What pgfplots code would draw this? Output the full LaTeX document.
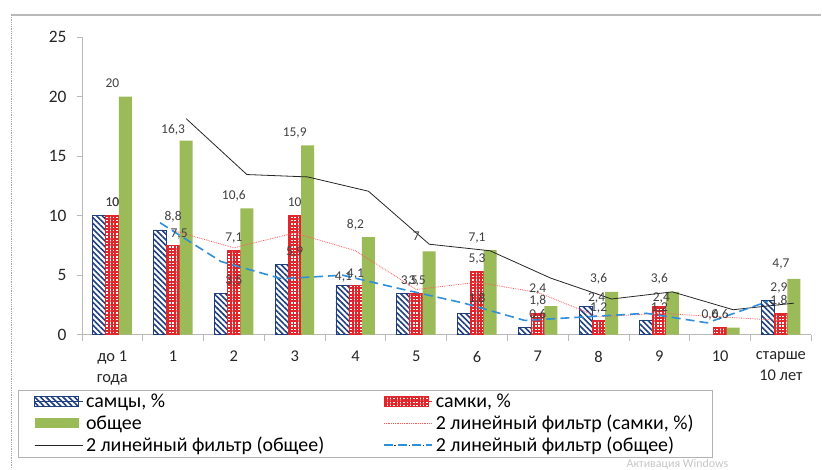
\documentclass[border=0pt]{standalone}
\usepackage{fontspec}
\setmainfont{Carlito}
\usepackage{pgfplots}
\usepackage{pgfplotstable}
\pgfplotsset{compat=1.18}
\usetikzlibrary{patterns.meta}
\definecolor{cNavy}{HTML}{1F3F7F}
\definecolor{cRed}{HTML}{E0262B}
\definecolor{cGreen}{HTML}{9BBB59}
\definecolor{cDash}{HTML}{2F8FD8}
\definecolor{cDot}{HTML}{FF5A5A}
\definecolor{cTxt}{HTML}{404040}

% dm, df, dt: extra vertical shift of the data labels (bp); hm, hf, ht: horizontal shift
\pgfplotstableread{
x m f t dm df dt hm hf ht
0 10 10 20 0 0 0 0 0 0
1 8.8 7.5 16.3 0 -1 -2 0 6 0
2 3.5 7.1 10.6 0 0 0 0 0 0
3 5.9 10 15.9 0 0 0 0 0 0
4 4.1 4.1 8.2 -4 -1 0 -12 0 0
5 3.5 3.5 7 0 0 2 -7 1 0
6 1.8 5.3 7.1 2 0 0 0 0 0
7 0.6 1.8 2.4 0 0 5 0 0 0
8 2.4 1.2 3.6 -4 0 0 -2 0 0
9 1.2 2.4 3.6 0 -4 0 0 2 0
10 nan 0.6 0.6 0 0 0 0 -10 0
11 2.9 1.8 4.7 0 0 2 -2 -2 0
}\data

\pgfplotstableread{
x mm fm tm
1 9.4 8.75 18.15
2 6.15 7.3 13.45
3 4.7 8.55 13.25
4 5.0 7.05 12.05
5 3.8 3.8 7.6
6 2.65 4.4 7.05
7 1.2 3.55 4.75
8 1.5 1.5 3.0
9 1.8 1.8 3.6
10 1.0 1.5 2.1
11 2.8 1.2 2.65
}\ma

\pgfplotsset{
  legMale/.style={legend image code/.code={\draw[cNavy, line width=0.8bp, pattern={Lines[angle=-45, distance=4bp, line width=1.6bp]}, pattern color=cNavy] (0bp,-5bp) rectangle (44bp,5bp); \path (0bp,0bp) -- (48bp,0bp);}},
  legFemale/.style={legend image code/.code={\draw[cRed, line width=0.8bp, pattern={Hatch[distance=3.3bp, line width=1.9bp]}, pattern color=cRed] (0bp,-5bp) rectangle (44bp,5bp); \path (0bp,0bp) -- (48bp,0bp);}},
  legTotal/.style={legend image code/.code={\fill[cGreen] (0bp,-5bp) rectangle (44bp,5bp); \path (0bp,0bp) -- (48bp,0bp);}},
  legDot/.style={legend image code/.code={\draw[cDot, line width=0.8bp, densely dotted] (0bp,0bp) -- (44bp,0bp); \path (0bp,0bp) -- (48bp,0bp);}},
  legSolid/.style={legend image code/.code={\draw[black!85, line width=0.8bp] (0bp,0bp) -- (44bp,0bp); \path (0bp,0bp) -- (48bp,0bp);}},
  legDashDot/.style={legend image code/.code={\draw[black!80, line width=0.7bp, dash pattern=on 7bp off 3bp on 1.5bp off 3bp] (0bp,0bp) -- (44bp,0bp); \path (0bp,0bp) -- (48bp,0bp);}},
  lbl/.style n args={2}{nodes near coords,
    visualization depends on={\thisrow{#1} \as \dy},
    visualization depends on={\thisrow{#2} \as \dx},
    every node near coord/.append style={anchor=base, yshift=9bp+\dy bp, xshift=\dx bp}},
}

\begin{document}
\begin{tikzpicture}[x=1bp,y=1bp]
\path (0,0) rectangle (822,-469);
\draw[gray!55, line width=1.4bp] (11,-15) -- (822,-15);
\draw[gray!70, line width=0.8bp, densely dotted] (11,-15) -- (11,-468);
\begin{axis}[
  at={(82bp,-335bp)}, anchor=south west,
  scale only axis, width=730bp, height=298bp,
  xmin=-0.5, xmax=11.5, ymin=0, ymax=25,
  axis x line*=bottom, axis y line*=left,
  axis line style={draw=gray!55, line width=0.8bp},
  ytick={0,5,...,25},
  xtick={0,...,11},
  xticklabels={{до 1\\года},1,2,3,4,5,6,7,8,9,10,{старше\\10 лет}},
  minor xtick={-0.5,0.5,...,11.5},
  major x tick style={draw=none},
  tick align=outside, major tick length=5bp, minor tick length=6bp,
  tick style={draw=gray!55, line width=0.8bp},
  ticklabel style={font=\fontsize{16.5}{21}\selectfont, text=black!85},
  xticklabel style={align=center, yshift=-8bp},
  yticklabel style={xshift=-7bp, font=\fontsize{17.5}{21}\selectfont},
  /pgf/number format/assume math mode=true,
  /pgf/number format/use comma,
  clip=false,
  legend columns=2,
  legend cell align=left,
  legend style={at={(-0.0877,-0.1846)}, anchor=north west, draw=gray!60, line width=0.6bp,
    font=\fontsize{20}{22}\selectfont, inner xsep=16bp, inner ysep=3.5bp,
    nodes={inner ysep=0.5bp, inner xsep=3bp},
    /tikz/every even column/.append style={column sep=56bp}, row sep=5bp},
  nodes near coords style={font=\fontsize{13.5}{15}\selectfont, text=cTxt, inner sep=1bp},
]
\addplot[ybar, bar width=13bp, bar shift=-13bp, draw=cNavy, line width=0.8bp,
  pattern={Lines[angle=-45, distance=4bp, line width=1.6bp]}, pattern color=cNavy,
  lbl={dm}{hm}, legMale]
  table[x=x,y=m] {\data};
\addlegendentry{самцы, \%}
\addplot[ybar, bar width=13bp, bar shift=0bp, draw=cRed, line width=0.8bp,
  pattern={Hatch[distance=3.3bp, line width=1.9bp]}, pattern color=cRed,
  lbl={df}{hf}, legFemale]
  table[x=x,y=f] {\data};
\addlegendentry{самки, \%}
\addplot[ybar, bar width=13bp, bar shift=13bp, draw=none, fill=cGreen,
  lbl={dt}{ht}, legTotal]
  table[x=x,y=t] {\data};
\addlegendentry{общее}
\addplot[sharp plot, no markers, cDot, line width=0.8bp, densely dotted, legDot]
  table[x=x,y=fm] {\ma};
\addlegendentry{2 линейный фильтр (самки, \%)}
\addplot[sharp plot, no markers, black!85, line width=0.8bp, legSolid]
  table[x expr=\thisrow{x}+0.2137,y=tm] {\ma};
\addlegendentry{2 линейный фильтр (общее)}
\addplot[sharp plot, no markers, cDash, line width=1.6bp, dash pattern=on 9bp off 5bp, legDashDot]
  table[x expr=\thisrow{x}-0.2137,y=mm] {\ma};
\addlegendentry{2 линейный фильтр (общее)}
\end{axis}
\node[text=gray!45, font=\fontsize{12}{14}\selectfont, anchor=base west, inner sep=0pt] at (627,-468) {Активация Windows};
\end{tikzpicture}
\end{document}
